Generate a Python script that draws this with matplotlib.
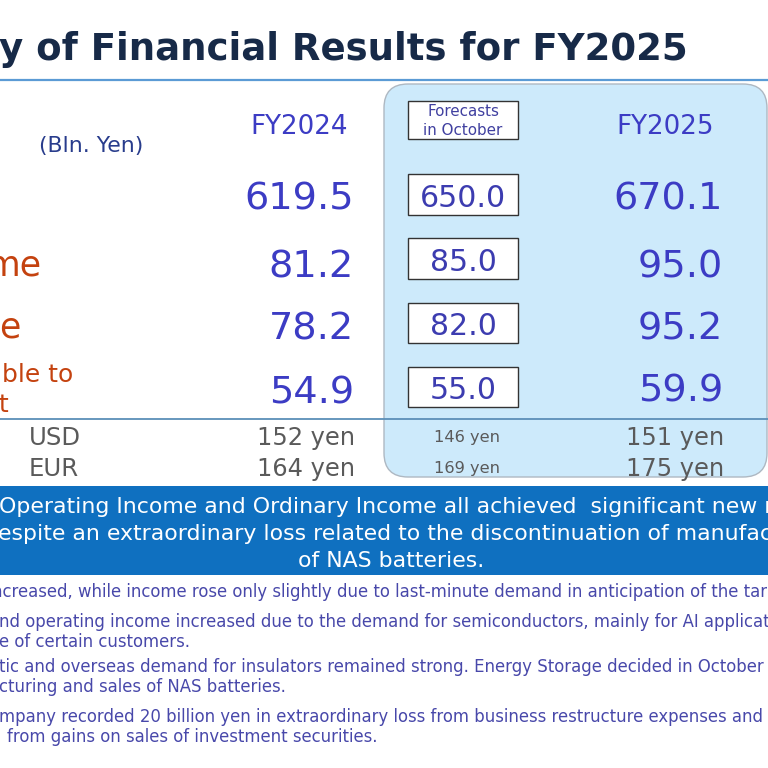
import matplotlib
matplotlib.use('Agg')
import matplotlib.pyplot as plt
from matplotlib.patches import FancyBboxPatch, Rectangle

plt.rcParams['font.family'] = ['DejaVu Sans']

# --- data ---
title = 'y of Financial Results for FY2025'
unit = '(Bln. Yen)'
col_prev = 'FY2024'
col_cur = 'FY2025'
col_fc = ['Forecasts', 'in October']

row_labels = ['me', 'ne']            # tails of "...Income" rows, cut at the left edge
row_label_last = ['ble to', 't']     # tail of "Profit attributable to / owners of parent"
fy2024 = [619.5, 81.2, 78.2, 54.9]
forecast_oct = [650.0, 85.0, 82.0, 55.0]
fy2025 = [670.1, 95.0, 95.2, 59.9]

fx_names = ['USD', 'EUR']
fx2024 = [152, 164]
fx_forecast = [146, 169]
fx2025 = [151, 175]

banner = ['Operating Income and Ordinary Income all achieved  significant new records',
          'espite an extraordinary loss related to the discontinuation of manufacturing',
          'of NAS batteries.']

notes = ['ncreased, while income rose only slightly due to last-minute demand in anticipation of the tariffs',
         'nd operating income increased due to the demand for semiconductors, mainly for AI applications',
         'e of certain customers.',
         'tic and overseas demand for insulators remained strong. Energy Storage decided in October',
         'cturing and sales of NAS batteries.',
         'mpany recorded 20 billion yen in extraordinary loss from business restructure expenses and',
         'from gains on sales of investment securities.']

# --- layout (pixels, y down) ---
row_y = [210, 278, 340, 403]
box_y = [(174, 215), (238, 279), (303, 343), (367, 407)]
fx_y = [445, 476]
note_x = [-8, -1, -1, -1, -1, -1, 7]
note_y = [597, 627, 647, 672, 692, 722, 742]

blue = '#3c3cc4'
navy = '#283c8c'
red = '#c4420f'
gray = '#5a5a5a'

fig = plt.figure(figsize=(7.68, 7.68), dpi=100)
ax = fig.add_axes([0, 0, 1, 1])
ax.set_xlim(0, 768)
ax.set_ylim(768, 0)
ax.axis('off')

# title and rule
ax.text(-1, 60, title, fontsize=26.7, fontweight='bold', color='#172a48', va='baseline', ha='left')
ax.plot([0, 768], [80, 80], color='#5b9bd5', lw=1.6)

# shaded FY2025 panel
ax.add_patch(FancyBboxPatch((384, 84), 383, 393, boxstyle='round,pad=0,rounding_size=24',
                            facecolor='#cdeafb', edgecolor='#aeb8c2', lw=1))

# headers
ax.text(299, 134, col_prev, fontsize=18.8, color=blue, ha='center', va='baseline')
ax.text(665, 134, col_cur, fontsize=18.8, color=blue, ha='center', va='baseline')
ax.text(39, 152, unit, fontsize=15.8, color=navy, ha='left', va='baseline')
ax.add_patch(Rectangle((408, 101), 110, 38, facecolor='white', edgecolor='#333333', lw=1))
ax.text(463, 116, col_fc[0], fontsize=10.9, color='#4040a0', ha='center', va='baseline')
ax.text(463, 135, col_fc[1], fontsize=10.9, color='#4040a0', ha='center', va='baseline')

# row labels
ax.text(42, row_y[1] - 3, row_labels[0], fontsize=25, color=red, ha='right', va='baseline')
ax.text(22, row_y[2] - 3, row_labels[1], fontsize=25, color=red, ha='right', va='baseline')
ax.text(73, 382, row_label_last[0], fontsize=18, color=red, ha='right', va='baseline')
ax.text(8, 412, row_label_last[1], fontsize=18, color=red, ha='right', va='baseline')

# values
for i in range(len(fy2024)):
    ax.text(354, row_y[i], f'{fy2024[i]:.1f}', fontsize=27.5, color=blue, ha='right', va='baseline')
    ax.text(723, row_y[i] - 1, f'{fy2025[i]:.1f}', fontsize=27.5, color=blue, ha='right', va='baseline')
    y0, y1 = box_y[i]
    ax.add_patch(Rectangle((408, y0), 110, y1 - y0, facecolor='white', edgecolor='#333333', lw=1))
    ax.text(463, y1 - 8, f'{forecast_oct[i]:.1f}', fontsize=21.6, color='#3c3cb0', ha='center', va='baseline')

# exchange rates
ax.plot([0, 768], [419, 419], color='#5b8fb8', lw=1.3)
for i in range(len(fx_names)):
    ax.text(29, fx_y[i], fx_names[i], fontsize=17.6, color=gray, ha='left', va='baseline')
    ax.text(355, fx_y[i], f'{fx2024[i]} yen', fontsize=17.4, color=gray, ha='right', va='baseline')
    ax.text(434, fx_y[i] - 3, f'{fx_forecast[i]} yen', fontsize=11.7, color=gray, ha='left', va='baseline')
    ax.text(724, fx_y[i], f'{fx2025[i]} yen', fontsize=17.4, color=gray, ha='right', va='baseline')

# banner
ax.add_patch(Rectangle((0, 486), 768, 89, facecolor='#0f70c0', edgecolor='none'))
ax.text(-1, 513, banner[0], fontsize=15.8, color='white', ha='left', va='baseline')
ax.text(-2, 540, banner[1], fontsize=15.8, color='white', ha='left', va='baseline')
ax.text(391, 567, banner[2], fontsize=15.8, color='white', ha='center', va='baseline')

# notes
for x, y, s in zip(note_x, note_y, notes):
    ax.text(x, y, s, fontsize=11.9, color='#4848aa', ha='left', va='baseline')

fig.savefig('out.png', dpi=100)
